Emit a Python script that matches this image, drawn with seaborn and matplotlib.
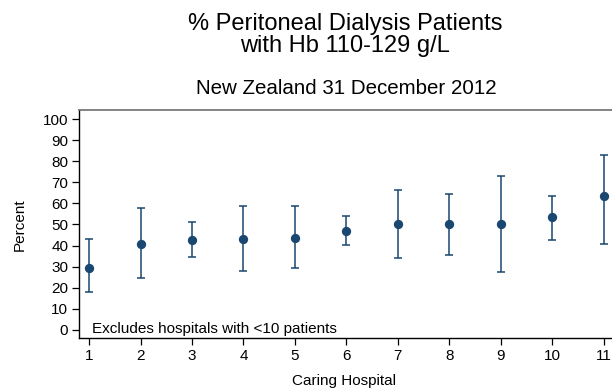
import matplotlib
matplotlib.use("Agg")
import matplotlib.pyplot as plt
import seaborn as sns
import pandas as pd
import numpy as np

# Percentage of PD patients with Hb 110-129 g/L per caring hospital, with 95% CI
hospital = [1, 2, 3, 4, 5, 6, 7, 8, 9, 10, 11]
percent = [29.5, 40.6, 42.8, 43.0, 43.7, 47.1, 50.1, 50.1, 50.1, 53.4, 63.7]
ci_low = [18.1, 24.7, 34.6, 27.7, 29.5, 40.1, 33.9, 35.6, 27.3, 42.6, 40.7]
ci_high = [43.0, 57.8, 51.2, 58.9, 58.9, 53.9, 66.2, 64.5, 72.9, 63.7, 83.0]
y_ticks = [0, 10, 20, 30, 40, 50, 60, 70, 80, 90, 100]

df = pd.DataFrame({"hospital": hospital, "percent": percent,
                   "low": ci_low, "high": ci_high})

sns.set_style("white")
plt.rcParams["font.family"] = ["Liberation Sans", "DejaVu Sans"]
plt.rcParams["text.color"] = "black"
plt.rcParams["axes.labelcolor"] = "black"

navy = "#1a476f"
fig = plt.figure(figsize=(6.12, 3.88), dpi=100)
ax = fig.add_axes([79.3 / 612, (388 - 338.3) / 388, 550.2 / 612, 228.3 / 388])

ax.errorbar(df["hospital"], df["percent"],
            yerr=[df["percent"] - df["low"], df["high"] - df["percent"]],
            fmt="none", ecolor=navy, elinewidth=1.1, capsize=2.7, capthick=1.1,
            zorder=2)
sns.scatterplot(data=df, x="hospital", y="percent", ax=ax, color=navy,
                s=45, edgecolor=navy, linewidth=0, zorder=3, legend=False)

ax.set_xlim(0.81, 11.5)
ax.set_ylim(-4.1, 104.4)
ax.set_xticks(hospital)
ax.set_xticklabels([str(h) for h in hospital])
ax.set_yticks(y_ticks)
ax.set_yticklabels([str(t) for t in y_ticks])
ax.tick_params(axis="both", direction="out", length=5, width=0.9,
               colors="black", labelsize=11, pad=3, left=True, bottom=True)

for side in ["left", "bottom"]:
    ax.spines[side].set_color("black")
    ax.spines[side].set_linewidth(1.0)
ax.spines["right"].set_visible(False)
ax.spines["top"].set_color("#6e6e6e")
ax.spines["top"].set_linewidth(1.2)

ax.set_xlabel("")
ax.set_ylabel("")
ax.text(1.06, 0.5, "Excludes hospitals with <10 patients", fontsize=11,
        ha="left", va="center", color="black")

fig.text(345 / 612, 1 - 35 / 388, "% Peritoneal Dialysis Patients\nwith Hb 110-129 g/L",
         ha="center", va="center", fontsize=17, linespacing=0.95, color="black")
fig.text(346 / 612, 1 - 88 / 388, "New Zealand 31 December 2012",
         ha="center", va="center", fontsize=14.8, color="black")
fig.text(344 / 612, 1 - 380.5 / 388, "Caring Hospital", ha="center", va="center",
         fontsize=11, color="black")
fig.text(19.5 / 612, 1 - 224.5 / 388, "Percent", ha="center", va="center",
         rotation=90, fontsize=11, color="black")

fig.savefig("out.png", dpi=100, facecolor="white")
